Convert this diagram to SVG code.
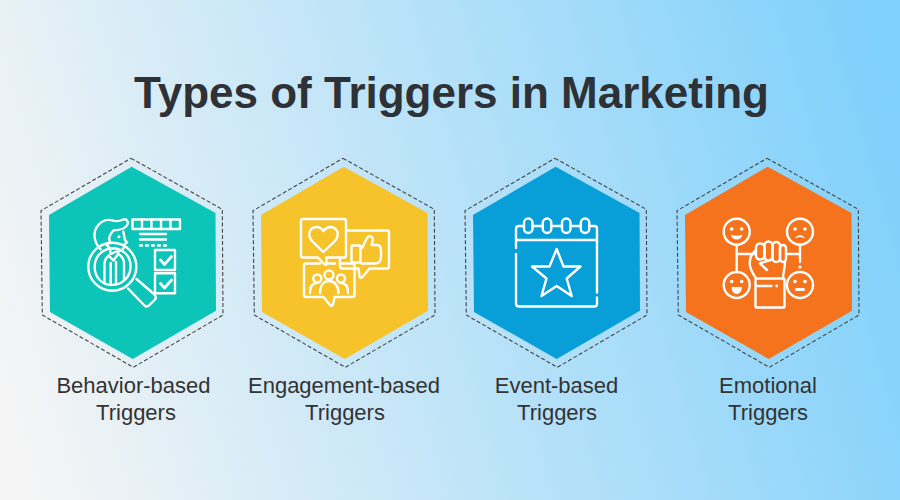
<svg xmlns="http://www.w3.org/2000/svg" xmlns:xlink="http://www.w3.org/1999/xlink" width="900" height="500" viewBox="0 0 900 500">
<style>
.ic{fill:none;stroke:#fff;stroke-width:2.4;stroke-linecap:round;stroke-linejoin:round}
.dot{fill:#fff}
.dash{fill:none;stroke:#444;stroke-width:1.100;stroke-dasharray:4 2.200}
.lb{font-family:"Liberation Sans",Arial,sans-serif;font-size:22px;fill:#333;text-anchor:middle}
.title{font-family:"Liberation Sans",Arial,sans-serif;font-size:44px;font-weight:bold;fill:#2e3135;text-anchor:middle}
</style>
<defs>
<linearGradient id="bg" gradientUnits="userSpaceOnUse" x1="0" y1="380" x2="900" y2="120">
<stop offset="0" stop-color="#f5f5f5"/><stop offset="1" stop-color="#7fd0fb"/>
</linearGradient>
<polygon id="hex" points="131.7,166.7 215.500,213 216,310.700 132.700,359 50,312 49,215"/>
<polygon id="dashhex" points="131,158.300 222.300,209.300 223,315 133.300,367.300 42.300,315 41,210.700"/>
</defs>
<rect width="900" height="500" fill="url(#bg)"/>
<text class="title" x="451.500" y="108">Types of Triggers in Marketing</text>

<g id="node-behavior">
<use xlink:href="#hex" href="#hex" fill="#0dc4b8"/>
<use xlink:href="#dashhex" href="#dashhex" class="dash"/>
<g class="ic">
<circle cx="112.300" cy="266.700" r="24"/>
<path d="M95,271 C93,258 101,249 112.300,248.200 C123,248.200 131,256 130.500,267 C130.500,277 122,285 112,285 C104,285 97,280 95,271"/>
<path d="M128,288.500 L144,305 Q146,307.500 149,305.500 L155,299.500 Q157,297 154.500,294.500 L136.500,279"/>
<path d="M100.700,249.300 C94,243 92,232 98.300,225 C102,220.500 108,219 113,220.500 C117,222 120,221 123.300,219.500 C126,218.500 128.700,221 127.700,224 C126.500,228 122,230 113.300,230.500 C111,233 109.500,236 109,238.500 L110,241.500 L106.500,245 L110,248 L110.500,254"/>
<path d="M123.300,231.500 L125,240 L127,242.500 L124.700,244 C124.500,249 122,251.500 115,252 L111,254"/>
<path d="M108.500,255.500 L113.500,260.500 L118.500,253.500"/>
<path d="M104.500,282 V264 Q104.500,259 108.500,256 M110.700,263 V284 M116,262 V284 M124,280 V263 Q124,258 118.500,254"/>
<rect x="132.500" y="219.500" width="47.500" height="9.500"/>
<path d="M142,219.500V229M151.500,219.500V229M161,219.500V229M170.500,219.500V229"/>
<path d="M140,234H166M140,239.500H166"/>
<path d="M140,245.500H142M146,245.500H148M152,245.500H154M158,245.500H160M164,245.500H166"/>
<rect x="155" y="250" width="20" height="20"/>
<rect x="155" y="273.300" width="20" height="20"/>
<path stroke-width="2.800" d="M160.500,260 L164.500,264.500 L171.500,256.500"/>
<path stroke-width="2.800" d="M160.500,283.500 L164.500,288 L171.500,280"/>
</g>
<g class="dot"><circle cx="119" cy="236.700" r="1.500"/></g>
</g>
<text class="lb" x="133.500" y="393">Behavior-based</text>
<text class="lb" x="136" y="420">Triggers</text>

<g id="node-engagement">
<use xlink:href="#hex" href="#hex" x="212" fill="#f6c32a"/>
<use xlink:href="#dashhex" href="#dashhex" x="212" class="dash"/>
<g class="ic">
<path d="M303,219 H344 Q346,219 346,221 V255.500 Q346,257.500 344,257.500 H326.500 V264 Q326,266 324.500,264.500 L318,257.500 H303 Q301,257.500 301,255.500 V221 Q301,219 303,219 Z"/>
<path d="M323.300,252 L312,241 C306,233 311,227 317,227 C320,227 322,229 323.300,231 C325,229 327,227 330,227 C336,227 341,233 335,241 Z"/>
<path d="M346,230.500 H387 Q389,230.500 389,232.500 V266.500 Q389,268.500 387,268.500 H369.500 L362.500,277 Q360,279 359.500,276 L358.500,268.500 H342 Q340,268.500 340,266 V258"/>
<rect x="351.500" y="245.500" width="9" height="17" rx="1"/>
<path d="M362,248 L367,238 C369,235 373,236 373,240 L371.500,245 H377 C380,245 381,248 381,251 V257 C381,261 379,263.500 375,263.500 H361.500"/>
<path d="M326,263.500 H335 M340,263.500 H352.500 Q354.500,263.500 354.500,265.500 V295 Q354.500,297 352.500,297 H334.500 L333,304.500 Q332,307 330,305 L323.500,297 H306 Q304,297 304,295 V265.500 Q304,263.500 306,263.500 H320"/>
<circle cx="317.300" cy="278.500" r="4"/>
<circle cx="329" cy="275" r="4.500"/>
<circle cx="341" cy="278.500" r="4"/>
<path d="M320,293 C320,285 324,281 329,281 C334,281 338.500,285 338.500,293"/>
<path d="M310,293 C310,286 313,283 317,283 M348,293 C348,286 345,283 341,283"/>
</g>
</g>
<text class="lb" x="344" y="393">Engagement-based</text>
<text class="lb" x="345" y="420">Triggers</text>

<g id="node-event">
<use xlink:href="#hex" href="#hex" x="424" fill="#089fd9"/>
<use xlink:href="#dashhex" href="#dashhex" x="424" class="dash"/>
<g class="ic">
<path d="M524,226 H519 Q516,226 516,229 V248 M516,254 V303.500 Q516,306.500 519,306.500 H594.500 Q597,306.500 597,304 V297.500 M597,292.500 V229 Q597,226 594.500,226 H589"/>
<path d="M516.500,240 H597"/>
<path d="M532.500,226 H543 M551,226 H562 M570.500,226 H581"/>
<rect x="524" y="218.500" width="8.500" height="14.500" rx="4.200"/>
<rect x="542.800" y="218.500" width="8.500" height="14.500" rx="4.200"/>
<rect x="562" y="218.500" width="8.500" height="14.500" rx="4.200"/>
<rect x="580.800" y="218.500" width="8.500" height="14.500" rx="4.200"/>
<path d="M556.700,249 L563.500,266.500 H580.500 L566.700,278.500 L571.700,296 L556.700,286 L541.500,296 L546.500,278.500 L532,266.500 H549.500 Z"/>
</g>
</g>
<text class="lb" x="556.500" y="393">Event-based</text>
<text class="lb" x="557" y="420">Triggers</text>

<g id="node-emotional">
<use xlink:href="#hex" href="#hex" x="636" fill="#f5731c"/>
<use xlink:href="#dashhex" href="#dashhex" x="636" class="dash"/>
<g class="ic">
<circle cx="736.700" cy="231.700" r="13"/>
<circle cx="800" cy="231.700" r="13"/>
<circle cx="736.700" cy="285" r="13"/>
<circle cx="800" cy="285" r="13"/>
<path d="M736.700,244.700 V272 M736.700,254 H755 M786,254 H800 M800,244.700 V262"/>
<rect x="756" y="243.500" width="8.500" height="16" rx="4"/>
<rect x="764.500" y="241.500" width="8" height="19" rx="4"/>
<rect x="772.500" y="242" width="7.500" height="20" rx="3.750"/>
<rect x="780" y="245" width="6" height="17" rx="3"/>
<path d="M756,250 C751,254 749,260 750,266 C751,271 754,275 756,278.500 M785,262 C785,268 783,273 783,278.500"/>
<path d="M770,260 L760,263.500 L767,270"/>
<rect x="755.500" y="278.500" width="29" height="29" rx="1"/>
<path d="M756,286 H771.500"/>
</g>
<g class="dot">
<circle cx="800" cy="267" r="1.600"/>
<circle cx="731.700" cy="229" r="1.800"/><circle cx="741.700" cy="229" r="1.800"/>
<circle cx="795" cy="229" r="1.800"/><circle cx="805" cy="229" r="1.800"/>
<circle cx="731.700" cy="281.500" r="1.800"/><circle cx="741.700" cy="281.500" r="1.800"/>
<circle cx="795" cy="281.500" r="1.800"/><circle cx="805" cy="281.500" r="1.800"/>
<path d="M731,234.500 Q736.700,237 742.500,234.500 Q741.500,239.500 736.700,239.500 Q732,239.500 731,234.500 Z"/>
<path d="M794.500,238.500 Q800,231.500 805.500,238.500 Q800,235.500 794.500,238.500 Z"/>
<path d="M731.500,287 H742 Q741.500,294 736.700,294 Q732,294 731.500,287 Z"/>
<rect x="795" y="288" width="10" height="3" rx="1.500"/>
<circle cx="776.700" cy="286" r="1.400"/>
</g>
</g>
<text class="lb" x="768" y="393">Emotional</text>
<text class="lb" x="768" y="420">Triggers</text>
</svg>
